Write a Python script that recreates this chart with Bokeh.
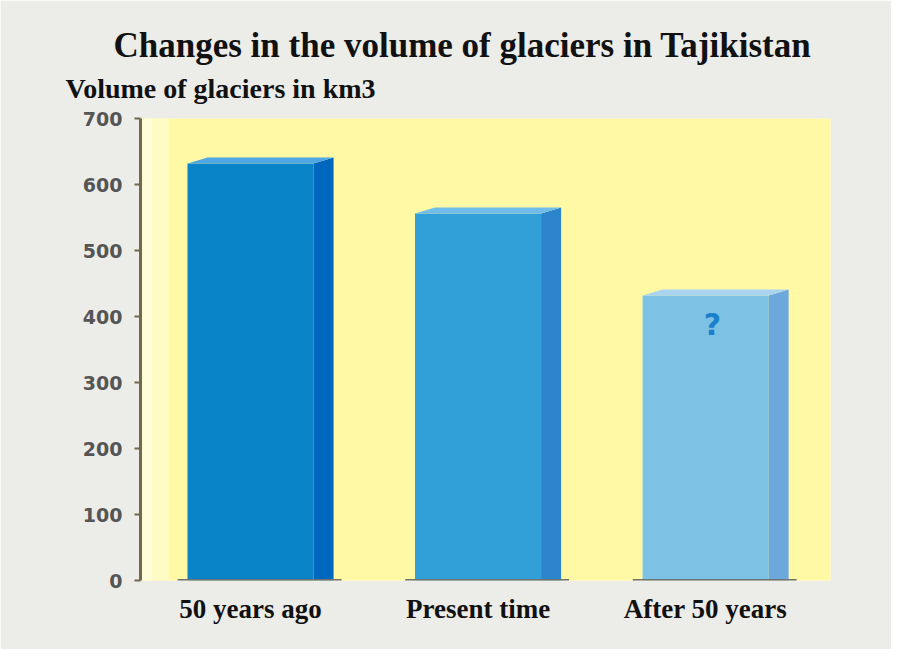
from bokeh.plotting import figure
from bokeh.models import FixedTicker, BoxAnnotation, Title
from bokeh.core.properties import value
from bokeh.embed import file_html
from bokeh.resources import INLINE

# ---- data ----
categories = ["50 years ago", "Present time", "After 50 years"]
volumes = [632, 556, 432]
y_ticks = [0, 100, 200, 300, 400, 500, 600, 700]
bar_front_colors = ["#0a84c8", "#31a0d8", "#7dc1e5"]
bar_side_colors = ["#0067bf", "#2b84cc", "#6da8dc"]
bar_top_colors = ["#4ea6e2", "#72bcea", "#a9d4ef"]

title_text = "Changes in the volume of glaciers in Tajikistan"
ylabel_text = "Volume of glaciers in km3"

# ---- geometry (in data units) ----
half_w = 0.277
depth = 0.088
top_rise = 9.0

xs = list(range(len(categories)))

p = figure(width=891, height=649, x_range=(-0.4835, 2.549), y_range=(0, 700),
           output_backend="svg", toolbar_location=None,
           min_border_left=140, min_border_right=61, min_border_top=118, min_border_bottom=69)
p.background_fill_color = "#fff9a6"
p.border_fill_color = "#ecece9"
p.outline_line_color = None
p.grid.visible = False

# pale strip near the axis
p.add_layout(BoxAnnotation(left=-0.4835, right=-0.43, fill_color="#fffcd8", fill_alpha=1.0, line_color=None, level="underlay"))
p.add_layout(BoxAnnotation(left=-0.43, right=-0.36, fill_color="#fffbc4", fill_alpha=1.0, line_color=None, level="underlay"))

# front faces
p.vbar(x=xs, top=volumes, width=2 * half_w, bottom=0, fill_color=bar_front_colors, line_color=None)

# side faces
side_x = [[x + half_w, x + half_w + depth, x + half_w + depth, x + half_w] for x in xs]
side_y = [[0, 0, v + top_rise, v] for v in volumes]
p.patches(side_x, side_y, fill_color=bar_side_colors, line_color=None)

# top faces
top_x = [[x - half_w, x - half_w + depth, x + half_w + depth, x + half_w] for x in xs]
top_y = [[v, v + top_rise, v + top_rise, v] for v in volumes]
p.patches(top_x, top_y, fill_color=bar_top_colors, line_color=None)

# base lines under bars
p.segment(x0=[x - 0.32 for x in xs], x1=[x + 0.40 for x in xs], y0=[0] * 3, y1=[0] * 3,
          line_color="#6f7370", line_width=3)

# question mark on the forecast bar
p.text(x=[xs[2] + 0.03], y=[volumes[2] - 44], text=["?"], text_color="#1a80cc",
       text_font=value("DejaVu Sans"), text_font_style="bold", text_font_size="30px",
       text_align="center", text_baseline="middle")

# y axis
yax = p.yaxis[0]
yax.ticker = FixedTicker(ticks=y_ticks)
yax.axis_line_color = "#70684f"
yax.axis_line_width = 3
yax.major_tick_line_color = "#70684f"
yax.major_tick_line_width = 2
yax.major_tick_out = 6
yax.major_tick_in = 0
yax.minor_tick_line_color = None
yax.major_label_text_font = "DejaVu Sans"
yax.major_label_text_font_style = "bold"
yax.major_label_text_font_size = "19px"
yax.major_label_text_color = "#555555"
yax.major_label_standoff = 12

# x axis
xax = p.xaxis[0]
xax.ticker = FixedTicker(ticks=xs)
xax.major_label_overrides = {x: c for x, c in zip(xs, categories)}
xax.axis_line_color = None
xax.major_tick_line_color = None
xax.minor_tick_line_color = None
xax.major_label_text_font = "Liberation Serif"
xax.major_label_text_font_style = "bold"
xax.major_label_text_font_size = "27px"
xax.major_label_text_color = "#111111"
xax.major_label_standoff = 7

# titles: main title on top, axis caption right above the frame
p.title.text = title_text
p.title.align = "left"
p.title.offset = -27
p.title.text_font = "Liberation Serif"
p.title.text_font_style = "bold"
p.title.text_font_size = "35px"
p.title.text_color = "#111111"
p.title.standoff = -18

p.add_layout(Title(text=ylabel_text, align="left", offset=-75,
                   text_font="Liberation Serif", text_font_style="bold",
                   text_font_size="28px", text_color="#111111", standoff=30), "above")

open("out.html", "w").write(file_html(p, INLINE))
